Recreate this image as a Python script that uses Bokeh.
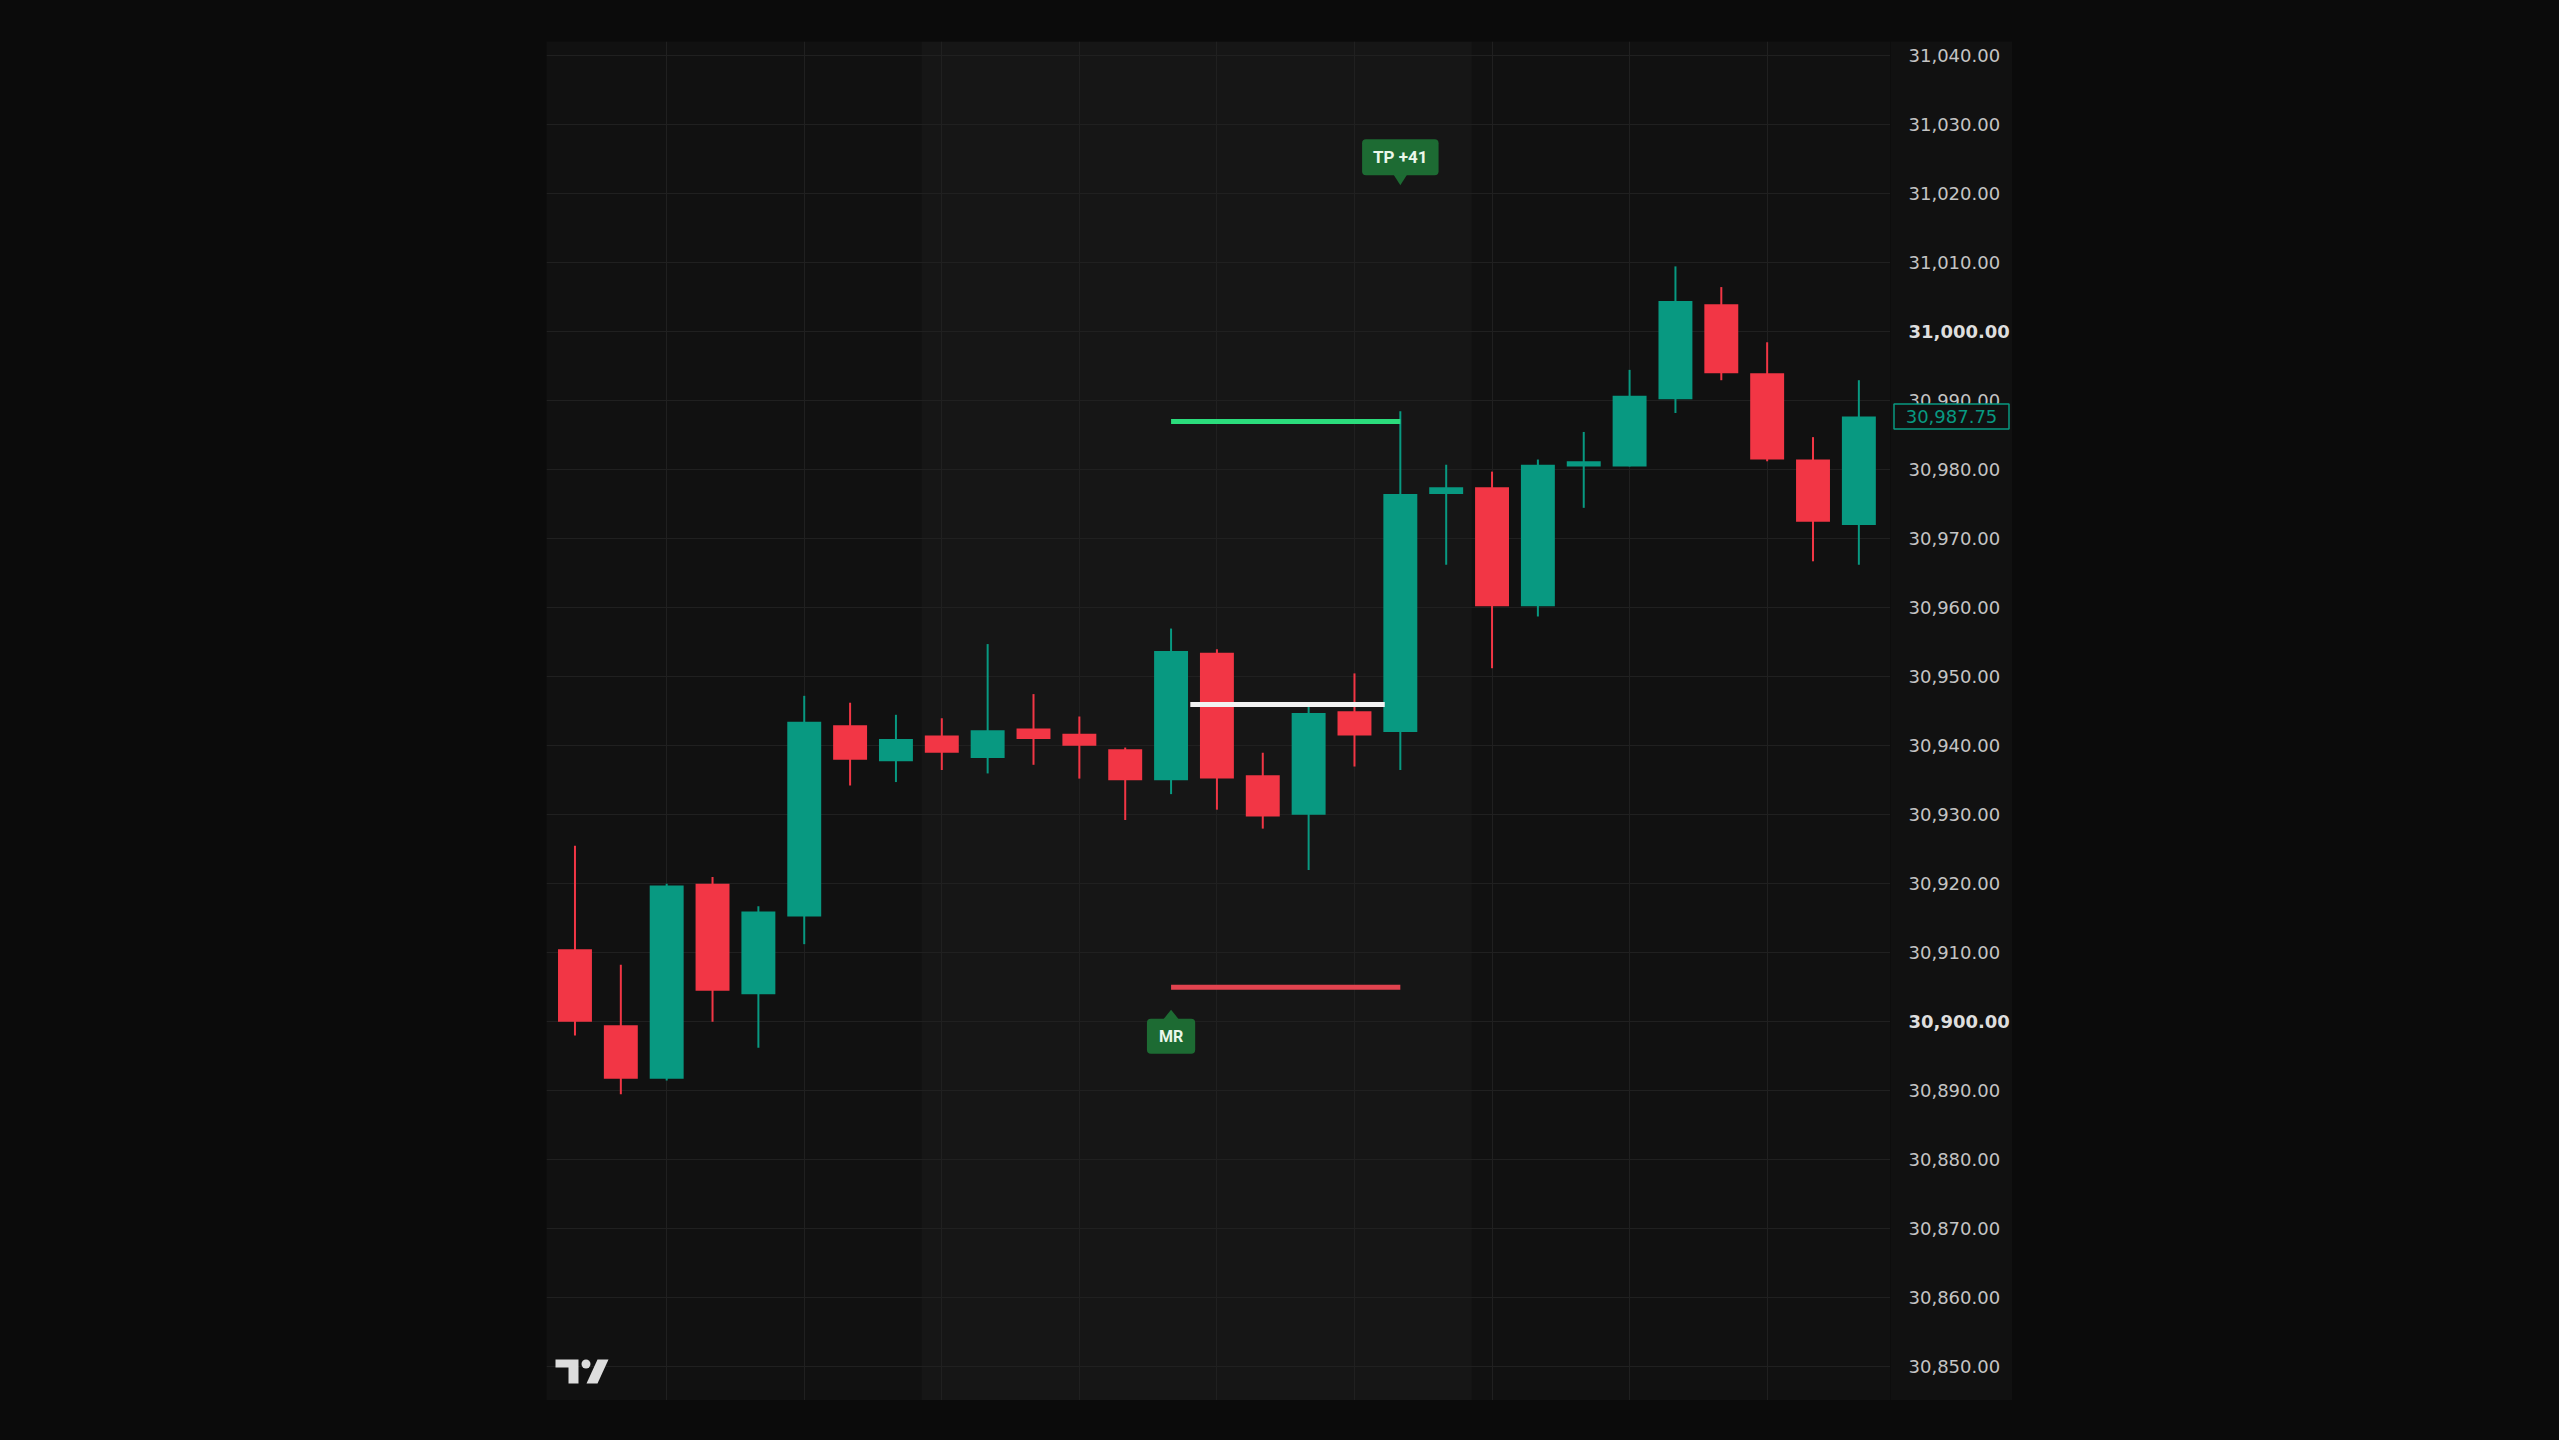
from bokeh.plotting import figure
from bokeh.models import (Range1d, FixedTicker, BoxAnnotation, Label, ColumnDataSource, Spacer)
from bokeh.layouts import row, column
from bokeh.core.properties import value
from bokeh.embed import file_html
from bokeh.resources import INLINE

# ---------------- data ----------------
bar_index = list(range(1, 30))
opens = [30910.5, 30899.5, 30891.75, 30920.0, 30904.0, 30915.25, 30943.0, 30937.75, 30941.5, 30938.25,
         30942.5, 30941.75, 30939.5, 30935.0, 30953.5, 30935.75, 30930.0, 30945.0, 30942.0, 30976.5,
         30977.5, 30960.25, 30980.5, 30980.5, 30990.25, 31004.0, 30994.0, 30981.5, 30972.0]
highs = [30925.5, 30908.25, 30920.0, 30921.0, 30916.75, 30947.25, 30946.25, 30944.5, 30944.0, 30954.75,
         30947.5, 30944.25, 30939.75, 30957.0, 30954.0, 30939.0, 30946.0, 30950.5, 30988.5, 30980.75,
         30979.75, 30981.5, 30985.5, 30994.5, 31009.5, 31006.5, 30998.5, 30984.75, 30993.0]
lows = [30898.0, 30889.5, 30891.5, 30900.0, 30896.25, 30911.25, 30934.25, 30934.75, 30936.5, 30936.0,
        30937.25, 30935.25, 30929.25, 30933.0, 30930.75, 30928.0, 30922.0, 30937.0, 30936.5, 30966.25,
        30951.25, 30958.75, 30974.5, 30980.5, 30988.25, 30993.0, 30981.25, 30966.75, 30966.25]
closes = [30900.0, 30891.75, 30919.75, 30904.5, 30916.0, 30943.5, 30938.0, 30941.0, 30939.0, 30942.25,
          30941.0, 30940.0, 30935.0, 30953.75, 30935.25, 30929.75, 30944.75, 30941.5, 30976.5, 30977.5,
          30960.25, 30980.75, 30981.25, 30990.75, 31004.5, 30994.0, 30981.5, 30972.5, 30987.75]

price_ticks = list(range(30850, 31041, 10))
bold_ticks = [31000, 30900]
time_grid_bars = [3, 6, 9, 12, 15, 18, 21, 24, 27]
session_start, session_end = 8.56, 20.56

trade_start_bar, trade_end_bar = 14, 19
entry_price = 30946.0
entry_line_bars = (14.42, 18.66)
tp_price = 30987.0
sl_price = 30905.0
tp_label_text = "TP +41"
tp_marker_bar, tp_marker_tip = 19, 31021.25
mr_label_text = "MR"
mr_marker_bar, mr_marker_tip = 14, 30901.75
last_price = closes[-1]

# ---------------- style ----------------
UP = "#089981"
DOWN = "#f23645"
BG = "#111111"
GRID = "#202020"
LABEL_BOX = "#1d6b33"

X0, X1 = 0.379, 29.69
Y0, Y1 = 30845.1, 31042.1
FW, FH = 1344, 1359
AXW = 122
PX_X = FW / (X1 - X0)
PX_Y = FH / (Y1 - Y0)


def dx(px):
    return px / PX_X


def dy(px):
    return px / PX_Y


colors = [UP if c >= o else DOWN for o, c in zip(opens, closes)]
src = ColumnDataSource(dict(
    x=bar_index, o=opens, h=highs, l=lows, c=closes,
    top=[max(o, c) for o, c in zip(opens, closes)],
    bottom=[min(o, c) for o, c in zip(opens, closes)],
    color=colors,
))

p = figure(frame_width=FW, frame_height=FH, x_range=Range1d(X0, X1), y_range=Range1d(Y0, Y1),
           x_axis_location=None, y_axis_location=None, toolbar_location=None,
           output_backend="svg", min_border=0)
p.background_fill_color = BG
p.border_fill_color = BG
p.outline_line_color = None

p.ygrid.ticker = FixedTicker(ticks=price_ticks)
p.ygrid.grid_line_color = GRID
p.ygrid.grid_line_width = 1
p.xgrid.ticker = FixedTicker(ticks=time_grid_bars)
p.xgrid.grid_line_color = GRID
p.xgrid.grid_line_width = 1

p.add_layout(BoxAnnotation(left=session_start, right=session_end, fill_color="#161616",
                           fill_alpha=1.0, line_color=None, level="image"))

# candles
p.segment(x0="x", y0="l", x1="x", y1="h", line_color="color", line_width=2, source=src)
p.vbar(x="x", width=0.74, top="top", bottom="bottom", fill_color="color", line_color=None, source=src)

# trade levels
p.segment(x0=[trade_start_bar], y0=[tp_price], x1=[trade_end_bar], y1=[tp_price],
          line_color="#2bdc7c", line_width=5)
p.segment(x0=[trade_start_bar], y0=[sl_price], x1=[trade_end_bar], y1=[sl_price],
          line_color="#e2434f", line_width=5)
p.segment(x0=[entry_line_bars[0]], y0=[entry_price], x1=[entry_line_bars[1]], y1=[entry_price],
          line_color="#f2f2f2", line_width=5)

# callout labels
p.patch(x=[tp_marker_bar - dx(7), tp_marker_bar + dx(7), tp_marker_bar],
        y=[tp_marker_tip + dy(11), tp_marker_tip + dy(11), tp_marker_tip],
        fill_color=LABEL_BOX, line_color=None)
p.add_layout(Label(x=tp_marker_bar, y=tp_marker_tip + dy(28), text=tp_label_text,
                   text_align="center", text_baseline="middle", text_font="Roboto",
                   text_font_style="bold", text_font_size="17px", text_color="#eaf7ea",
                   background_fill_color=LABEL_BOX, border_radius=4,
                   padding=dict(left=11, right=11, top=8, bottom=8)))
p.patch(x=[mr_marker_bar - dx(8), mr_marker_bar + dx(8), mr_marker_bar],
        y=[mr_marker_tip - dy(10), mr_marker_tip - dy(10), mr_marker_tip],
        fill_color=LABEL_BOX, line_color=None)
p.add_layout(Label(x=mr_marker_bar, y=mr_marker_tip - dy(26.5), text=mr_label_text,
                   text_align="center", text_baseline="middle", text_font="Roboto",
                   text_font_style="bold", text_font_size="16px", text_color="#eaf7ea",
                   background_fill_color=LABEL_BOX, border_radius=4,
                   padding=dict(left=12, right=12, top=8, bottom=8)))

# TradingView-style logo (bottom-left)
def lx(px):
    return X0 + dx(px)


def ly(px):
    return Y0 + dy(px)


logo = "#dddddd"
p.patch(x=[lx(9), lx(32), lx(32), lx(22), lx(22), lx(9)],
        y=[ly(41), ly(41), ly(17), ly(17), ly(33), ly(33)], fill_color=logo, line_color=None)
p.ellipse(x=[lx(39.5)], y=[ly(36.5)], width=dx(9), height=dy(9), fill_color=logo, line_color=None)
p.patch(x=[lx(51), lx(62), lx(51), lx(40)], y=[ly(41), ly(41), ly(17), ly(17)],
        fill_color=logo, line_color=None)

# ---------------- price scale panel ----------------
pa = figure(frame_width=AXW, frame_height=FH, x_range=Range1d(0, AXW), y_range=p.y_range,
            x_axis_location=None, y_axis_location=None, toolbar_location=None,
            output_backend="svg", min_border=0)
pa.background_fill_color = BG
pa.border_fill_color = BG
pa.outline_line_color = None
pa.xgrid.visible = False
pa.ygrid.visible = False

regular_ticks = [t for t in price_ticks if t not in bold_ticks]
pa.text(x=[18] * len(regular_ticks), y=regular_ticks, text=[f"{t:,.2f}" for t in regular_ticks],
        text_font=value("DejaVu Sans"), text_font_size="18px", text_color="#c4c4c4",
        text_align="left", text_baseline="middle")
pa.text(x=[18] * len(bold_ticks), y=bold_ticks, text=[f"{t:,.2f}" for t in bold_ticks],
        text_font=value("DejaVu Sans"), text_font_size="18px", text_font_style="bold",
        text_color="#dedede", text_align="left", text_baseline="middle")

pa.rect(x=[61], y=[last_price], width=115, height=dy(25), fill_color=BG,
        line_color=UP, line_width=1.5)
pa.text(x=[61], y=[last_price], text=[f"{last_price:,.2f}"], text_font=value("DejaVu Sans"),
        text_font_size="18px", text_color=UP, text_align="center", text_baseline="middle")

layout = row(Spacer(width=546), column(Spacer(height=41), row(p, pa)))

html = file_html(layout, INLINE, title="chart")
html = html.replace("<head>", "<head><style>html,body{background:#0b0b0b;}</style>", 1)
open("out.html", "w").write(html)
